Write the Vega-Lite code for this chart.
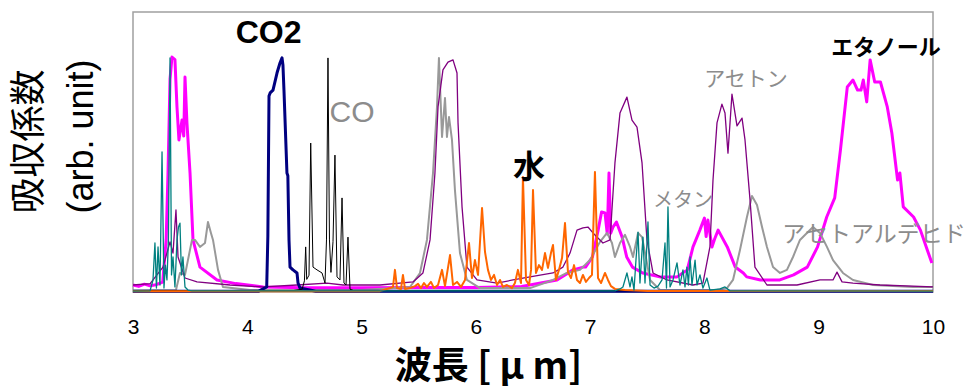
{
"$schema": "https://vega.github.io/schema/vega-lite/v6.json",
"width": 800, "height": 280,
"autosize": {"type": "none"},
"padding": {"left": 133, "top": 12, "right": 32, "bottom": 97},
"background": "white",
"config": {"view": {"stroke": "#a0a0a0", "strokeWidth": 1.5}},
"datasets": {
"spectra": [
{"s":"ethanol","x":3.0,"y":2.5},{"s":"ethanol","x":3.05,"y":2.0},{"s":"ethanol","x":3.1,"y":2.8},{"s":"ethanol","x":3.15,"y":2.2},{"s":"ethanol","x":3.2,"y":2.6},{"s":"ethanol","x":3.26,"y":3.5},{"s":"ethanol","x":3.29,"y":18.6},{"s":"ethanol","x":3.306,"y":42},{"s":"ethanol","x":3.324,"y":76},{"s":"ethanol","x":3.341,"y":83.9},{"s":"ethanol","x":3.367,"y":83.0},{"s":"ethanol","x":3.385,"y":66},{"s":"ethanol","x":3.402,"y":54.3},{"s":"ethanol","x":3.429,"y":61.4},{"s":"ethanol","x":3.444,"y":55.7},{"s":"ethanol","x":3.455,"y":76.8},{"s":"ethanol","x":3.472,"y":60.4},{"s":"ethanol","x":3.499,"y":42.5},{"s":"ethanol","x":3.525,"y":18.6},{"s":"ethanol","x":3.586,"y":8.9},{"s":"ethanol","x":3.735,"y":4.3},{"s":"ethanol","x":3.9,"y":3.0},{"s":"ethanol","x":4.14,"y":1.8},{"s":"ethanol","x":4.5,"y":1.5},{"s":"ethanol","x":5.0,"y":1.5},{"s":"ethanol","x":5.5,"y":1.6},{"s":"ethanol","x":6.0,"y":1.6},{"s":"ethanol","x":6.4,"y":2.0},{"s":"ethanol","x":6.71,"y":4.3},{"s":"ethanol","x":6.85,"y":7.9},{"s":"ethanol","x":6.94,"y":8.9},{"s":"ethanol","x":6.96,"y":8.9},{"s":"ethanol","x":7.02,"y":12.5},{"s":"ethanol","x":7.07,"y":22.1},{"s":"ethanol","x":7.10,"y":28.6},{"s":"ethanol","x":7.13,"y":28.2},{"s":"ethanol","x":7.15,"y":20.7},{"s":"ethanol","x":7.165,"y":42.5},{"s":"ethanol","x":7.18,"y":21},{"s":"ethanol","x":7.20,"y":23.2},{"s":"ethanol","x":7.23,"y":25.0},{"s":"ethanol","x":7.28,"y":19.6},{"s":"ethanol","x":7.32,"y":12.5},{"s":"ethanol","x":7.37,"y":8.9},{"s":"ethanol","x":7.46,"y":6.8},{"s":"ethanol","x":7.61,"y":5.4},{"s":"ethanol","x":7.76,"y":5.4},{"s":"ethanol","x":7.85,"y":7.9},{"s":"ethanol","x":7.90,"y":16.1},{"s":"ethanol","x":7.96,"y":22.1},{"s":"ethanol","x":8.00,"y":26.4},{"s":"ethanol","x":8.015,"y":19.8},{"s":"ethanol","x":8.03,"y":25.7},{"s":"ethanol","x":8.066,"y":16.1},{"s":"ethanol","x":8.09,"y":19},{"s":"ethanol","x":8.12,"y":22.1},{"s":"ethanol","x":8.20,"y":16.1},{"s":"ethanol","x":8.27,"y":8.9},{"s":"ethanol","x":8.34,"y":6.8},{"s":"ethanol","x":8.37,"y":5.4},{"s":"ethanol","x":8.49,"y":4.3},{"s":"ethanol","x":8.66,"y":4.3},{"s":"ethanol","x":8.78,"y":6.1},{"s":"ethanol","x":8.90,"y":8.9},{"s":"ethanol","x":8.99,"y":16.1},{"s":"ethanol","x":9.07,"y":26.8},{"s":"ethanol","x":9.14,"y":33.6},{"s":"ethanol","x":9.19,"y":50.7},{"s":"ethanol","x":9.25,"y":73.2},{"s":"ethanol","x":9.30,"y":75.7},{"s":"ethanol","x":9.34,"y":72.1},{"s":"ethanol","x":9.37,"y":72.1},{"s":"ethanol","x":9.39,"y":75.7},{"s":"ethanol","x":9.42,"y":67.9},{"s":"ethanol","x":9.45,"y":82.9},{"s":"ethanol","x":9.49,"y":75.0},{"s":"ethanol","x":9.54,"y":75.0},{"s":"ethanol","x":9.60,"y":66.1},{"s":"ethanol","x":9.64,"y":56.8},{"s":"ethanol","x":9.69,"y":40.0},{"s":"ethanol","x":9.71,"y":42.5},{"s":"ethanol","x":9.74,"y":30.4},{"s":"ethanol","x":9.83,"y":26.8},{"s":"ethanol","x":9.89,"y":22.1},{"s":"ethanol","x":9.95,"y":15.0},{"s":"ethanol","x":9.99,"y":10.4},
{"s":"acetaldehyde","x":3.0,"y":0.5},{"s":"acetaldehyde","x":3.376,"y":0.7},{"s":"acetaldehyde","x":3.411,"y":6.8},{"s":"acetaldehyde","x":3.455,"y":6.1},{"s":"acetaldehyde","x":3.516,"y":18.6},{"s":"acetaldehyde","x":3.542,"y":18.6},{"s":"acetaldehyde","x":3.586,"y":16.1},{"s":"acetaldehyde","x":3.63,"y":17.5},{"s":"acetaldehyde","x":3.656,"y":25.0},{"s":"acetaldehyde","x":3.682,"y":21.1},{"s":"acetaldehyde","x":3.70,"y":18.6},{"s":"acetaldehyde","x":3.744,"y":7.9},{"s":"acetaldehyde","x":3.787,"y":1.8},{"s":"acetaldehyde","x":4.024,"y":0.7},{"s":"acetaldehyde","x":5.0,"y":0.7},{"s":"acetaldehyde","x":5.424,"y":1.8},{"s":"acetaldehyde","x":5.511,"y":6.8},{"s":"acetaldehyde","x":5.572,"y":18.6},{"s":"acetaldehyde","x":5.625,"y":42.5},{"s":"acetaldehyde","x":5.66,"y":66.1},{"s":"acetaldehyde","x":5.677,"y":83.6},{"s":"acetaldehyde","x":5.704,"y":55.4},{"s":"acetaldehyde","x":5.73,"y":69.3},{"s":"acetaldehyde","x":5.747,"y":55.4},{"s":"acetaldehyde","x":5.765,"y":62.5},{"s":"acetaldehyde","x":5.791,"y":54.3},{"s":"acetaldehyde","x":5.817,"y":36.4},{"s":"acetaldehyde","x":5.861,"y":13.9},{"s":"acetaldehyde","x":5.922,"y":4.3},{"s":"acetaldehyde","x":6.036,"y":1.4},{"s":"acetaldehyde","x":6.474,"y":1.4},{"s":"acetaldehyde","x":6.675,"y":4.3},{"s":"acetaldehyde","x":6.797,"y":6.8},{"s":"acetaldehyde","x":6.911,"y":7.9},{"s":"acetaldehyde","x":6.999,"y":11.4},{"s":"acetaldehyde","x":7.086,"y":17.9},{"s":"acetaldehyde","x":7.148,"y":21.1},{"s":"acetaldehyde","x":7.191,"y":17.5},{"s":"acetaldehyde","x":7.217,"y":12.5},{"s":"acetaldehyde","x":7.261,"y":17.5},{"s":"acetaldehyde","x":7.305,"y":20.4},{"s":"acetaldehyde","x":7.349,"y":16.1},{"s":"acetaldehyde","x":7.375,"y":12.5},{"s":"acetaldehyde","x":7.419,"y":21.1},{"s":"acetaldehyde","x":7.454,"y":19.6},{"s":"acetaldehyde","x":7.497,"y":10.4},{"s":"acetaldehyde","x":7.524,"y":4.3},{"s":"acetaldehyde","x":7.611,"y":0.7},{"s":"acetaldehyde","x":8.11,"y":0.7},{"s":"acetaldehyde","x":8.197,"y":1.4},{"s":"acetaldehyde","x":8.25,"y":4.3},{"s":"acetaldehyde","x":8.311,"y":15.0},{"s":"acetaldehyde","x":8.372,"y":26.8},{"s":"acetaldehyde","x":8.416,"y":34.3},{"s":"acetaldehyde","x":8.46,"y":31.1},{"s":"acetaldehyde","x":8.504,"y":23.2},{"s":"acetaldehyde","x":8.547,"y":16.1},{"s":"acetaldehyde","x":8.60,"y":8.9},{"s":"acetaldehyde","x":8.661,"y":6.8},{"s":"acetaldehyde","x":8.722,"y":7.9},{"s":"acetaldehyde","x":8.775,"y":12.5},{"s":"acetaldehyde","x":8.836,"y":18.6},{"s":"acetaldehyde","x":8.897,"y":21.1},{"s":"acetaldehyde","x":8.95,"y":23.2},{"s":"acetaldehyde","x":9.011,"y":21.1},{"s":"acetaldehyde","x":9.072,"y":16.1},{"s":"acetaldehyde","x":9.125,"y":11.4},{"s":"acetaldehyde","x":9.212,"y":6.8},{"s":"acetaldehyde","x":9.30,"y":4.3},{"s":"acetaldehyde","x":9.475,"y":2.5},{"s":"acetaldehyde","x":9.825,"y":1.8},{"s":"acetaldehyde","x":10.0,"y":1.8},
{"s":"acetone","x":3.0,"y":2.5},{"s":"acetone","x":3.15,"y":3.0},{"s":"acetone","x":3.262,"y":8.9},{"s":"acetone","x":3.324,"y":17.9},{"s":"acetone","x":3.35,"y":13.9},{"s":"acetone","x":3.376,"y":29.3},{"s":"acetone","x":3.394,"y":12.5},{"s":"acetone","x":3.455,"y":5.0},{"s":"acetone","x":3.56,"y":3.6},{"s":"acetone","x":3.849,"y":2.5},{"s":"acetone","x":4.137,"y":1.8},{"s":"acetone","x":4.435,"y":2.5},{"s":"acetone","x":4.697,"y":3.2},{"s":"acetone","x":4.837,"y":2.5},{"s":"acetone","x":5.161,"y":2.5},{"s":"acetone","x":5.45,"y":3.6},{"s":"acetone","x":5.537,"y":6.8},{"s":"acetone","x":5.599,"y":18.6},{"s":"acetone","x":5.642,"y":42.5},{"s":"acetone","x":5.669,"y":66.1},{"s":"acetone","x":5.712,"y":79.3},{"s":"acetone","x":5.756,"y":82.1},{"s":"acetone","x":5.80,"y":82.9},{"s":"acetone","x":5.835,"y":78.2},{"s":"acetone","x":5.844,"y":60.4},{"s":"acetone","x":5.879,"y":30.4},{"s":"acetone","x":5.922,"y":8.9},{"s":"acetone","x":6.01,"y":4.3},{"s":"acetone","x":6.185,"y":3.2},{"s":"acetone","x":6.325,"y":4.3},{"s":"acetone","x":6.474,"y":5.4},{"s":"acetone","x":6.675,"y":6.8},{"s":"acetone","x":6.762,"y":8.9},{"s":"acetone","x":6.824,"y":13.9},{"s":"acetone","x":6.885,"y":22.1},{"s":"acetone","x":6.937,"y":22.9},{"s":"acetone","x":6.981,"y":23.2},{"s":"acetone","x":7.025,"y":21.1},{"s":"acetone","x":7.112,"y":17.5},{"s":"acetone","x":7.174,"y":18.6},{"s":"acetone","x":7.217,"y":46.1},{"s":"acetone","x":7.261,"y":63.9},{"s":"acetone","x":7.322,"y":69.6},{"s":"acetone","x":7.366,"y":61.4},{"s":"acetone","x":7.41,"y":58.9},{"s":"acetone","x":7.454,"y":46.1},{"s":"acetone","x":7.497,"y":18.6},{"s":"acetone","x":7.55,"y":6.8},{"s":"acetone","x":7.672,"y":4.3},{"s":"acetone","x":7.90,"y":2.5},{"s":"acetone","x":7.987,"y":3.2},{"s":"acetone","x":8.048,"y":16.1},{"s":"acetone","x":8.075,"y":40.0},{"s":"acetone","x":8.11,"y":60.4},{"s":"acetone","x":8.153,"y":67.1},{"s":"acetone","x":8.18,"y":63.9},{"s":"acetone","x":8.206,"y":49.6},{"s":"acetone","x":8.241,"y":70.7},{"s":"acetone","x":8.285,"y":59.3},{"s":"acetone","x":8.329,"y":62.1},{"s":"acetone","x":8.355,"y":54.3},{"s":"acetone","x":8.399,"y":32.9},{"s":"acetone","x":8.442,"y":8.9},{"s":"acetone","x":8.547,"y":2.5},{"s":"acetone","x":8.81,"y":2.5},{"s":"acetone","x":9.011,"y":4.3},{"s":"acetone","x":9.125,"y":4.3},{"s":"acetone","x":9.16,"y":7.1},{"s":"acetone","x":9.204,"y":3.6},{"s":"acetone","x":9.30,"y":3.2},{"s":"acetone","x":9.536,"y":2.5},{"s":"acetone","x":10.0,"y":1.8},
{"s":"co2","x":3.0,"y":0.3},{"s":"co2","x":4.10,"y":0.3},{"s":"co2","x":4.17,"y":1.8},{"s":"co2","x":4.18,"y":20},{"s":"co2","x":4.19,"y":70},{"s":"co2","x":4.20,"y":71.1},{"s":"co2","x":4.225,"y":72.1},{"s":"co2","x":4.26,"y":78.2},{"s":"co2","x":4.286,"y":81.8},{"s":"co2","x":4.304,"y":83.6},{"s":"co2","x":4.312,"y":81.1},{"s":"co2","x":4.321,"y":72.1},{"s":"co2","x":4.347,"y":42.5},{"s":"co2","x":4.355,"y":41.5},{"s":"co2","x":4.365,"y":18.6},{"s":"co2","x":4.374,"y":8.9},{"s":"co2","x":4.40,"y":7.9},{"s":"co2","x":4.435,"y":6.8},{"s":"co2","x":4.444,"y":3.2},{"s":"co2","x":4.461,"y":1.4},{"s":"co2","x":4.6,"y":0.3},{"s":"co2","x":10.0,"y":0.3},
{"s":"co","x":3.0,"y":0.5},{"s":"co","x":4.40,"y":0.5},{"s":"co","x":4.48,"y":1.0},{"s":"co","x":4.50,"y":4},{"s":"co","x":4.511,"y":16.1},{"s":"co","x":4.52,"y":4.5},{"s":"co","x":4.54,"y":6},{"s":"co","x":4.555,"y":53.2},{"s":"co","x":4.575,"y":8.9},{"s":"co","x":4.61,"y":7.9},{"s":"co","x":4.654,"y":6.8},{"s":"co","x":4.68,"y":3.2},{"s":"co","x":4.693,"y":18.6},{"s":"co","x":4.706,"y":83.6},{"s":"co","x":4.719,"y":18.6},{"s":"co","x":4.732,"y":7},{"s":"co","x":4.75,"y":18},{"s":"co","x":4.767,"y":48.9},{"s":"co","x":4.785,"y":5.4},{"s":"co","x":4.811,"y":4.3},{"s":"co","x":4.829,"y":33.6},{"s":"co","x":4.846,"y":3.2},{"s":"co","x":4.864,"y":2.5},{"s":"co","x":4.881,"y":19.6},{"s":"co","x":4.899,"y":1.0},{"s":"co","x":4.93,"y":0.5},{"s":"co","x":10.0,"y":0.5},
{"s":"water","x":3.0,"y":0.3},{"s":"water","x":5.16,"y":0.3},{"s":"water","x":5.249,"y":1.4},{"s":"water","x":5.275,"y":1.8},{"s":"water","x":5.292,"y":7.9},{"s":"water","x":5.31,"y":1.4},{"s":"water","x":5.345,"y":1.1},{"s":"water","x":5.362,"y":6.1},{"s":"water","x":5.38,"y":1.1},{"s":"water","x":5.424,"y":1.4},{"s":"water","x":5.467,"y":2.1},{"s":"water","x":5.494,"y":2.9},{"s":"water","x":5.52,"y":1.4},{"s":"water","x":5.546,"y":3.2},{"s":"water","x":5.572,"y":1.8},{"s":"water","x":5.607,"y":3.6},{"s":"water","x":5.634,"y":1.4},{"s":"water","x":5.669,"y":2.5},{"s":"water","x":5.704,"y":7.9},{"s":"water","x":5.73,"y":2.1},{"s":"water","x":5.774,"y":13.2},{"s":"water","x":5.8,"y":2.5},{"s":"water","x":5.835,"y":3.6},{"s":"water","x":5.87,"y":1.8},{"s":"water","x":5.905,"y":4.3},{"s":"water","x":5.94,"y":17.5},{"s":"water","x":5.966,"y":5.0},{"s":"water","x":5.992,"y":11.4},{"s":"water","x":6.019,"y":6.1},{"s":"water","x":6.054,"y":30.0},{"s":"water","x":6.08,"y":14.3},{"s":"water","x":6.106,"y":7.9},{"s":"water","x":6.132,"y":4.3},{"s":"water","x":6.159,"y":6.1},{"s":"water","x":6.185,"y":2.5},{"s":"water","x":6.211,"y":4.3},{"s":"water","x":6.237,"y":1.8},{"s":"water","x":6.272,"y":2.5},{"s":"water","x":6.316,"y":1.4},{"s":"water","x":6.342,"y":3.2},{"s":"water","x":6.368,"y":7.9},{"s":"water","x":6.395,"y":3.2},{"s":"water","x":6.412,"y":41.1},{"s":"water","x":6.439,"y":4.3},{"s":"water","x":6.465,"y":2.5},{"s":"water","x":6.483,"y":7.9},{"s":"water","x":6.5,"y":36.4},{"s":"water","x":6.526,"y":6.8},{"s":"water","x":6.552,"y":9.6},{"s":"water","x":6.579,"y":7.9},{"s":"water","x":6.605,"y":13.9},{"s":"water","x":6.631,"y":8.6},{"s":"water","x":6.657,"y":13.9},{"s":"water","x":6.675,"y":16.8},{"s":"water","x":6.701,"y":4.3},{"s":"water","x":6.727,"y":7.9},{"s":"water","x":6.754,"y":12.1},{"s":"water","x":6.78,"y":24.6},{"s":"water","x":6.806,"y":7.1},{"s":"water","x":6.832,"y":5.0},{"s":"water","x":6.859,"y":9.6},{"s":"water","x":6.885,"y":4.3},{"s":"water","x":6.911,"y":3.2},{"s":"water","x":6.937,"y":6.1},{"s":"water","x":6.963,"y":3.6},{"s":"water","x":6.99,"y":5.0},{"s":"water","x":7.016,"y":6.1},{"s":"water","x":7.042,"y":42.9},{"s":"water","x":7.069,"y":5.0},{"s":"water","x":7.095,"y":3.2},{"s":"water","x":7.13,"y":6.8},{"s":"water","x":7.156,"y":4.3},{"s":"water","x":7.182,"y":2.1},{"s":"water","x":7.217,"y":1.1},{"s":"water","x":7.305,"y":0.7},{"s":"water","x":7.5,"y":0.4},{"s":"water","x":10.0,"y":0.4},
{"s":"methane","x":3.0,"y":0.3},{"s":"methane","x":3.149,"y":0.4},{"s":"methane","x":3.175,"y":4.3},{"s":"methane","x":3.192,"y":17.5},{"s":"methane","x":3.205,"y":1.4},{"s":"methane","x":3.219,"y":16.1},{"s":"methane","x":3.236,"y":2.5},{"s":"methane","x":3.254,"y":50.0},{"s":"methane","x":3.271,"y":1.4},{"s":"methane","x":3.284,"y":9.6},{"s":"methane","x":3.297,"y":4.3},{"s":"methane","x":3.31,"y":18.6},{"s":"methane","x":3.324,"y":83.6},{"s":"methane","x":3.337,"y":6.1},{"s":"methane","x":3.35,"y":12.5},{"s":"methane","x":3.367,"y":1.8},{"s":"methane","x":3.385,"y":18.6},{"s":"methane","x":3.398,"y":23.2},{"s":"methane","x":3.411,"y":24.6},{"s":"methane","x":3.424,"y":6.1},{"s":"methane","x":3.437,"y":12.5},{"s":"methane","x":3.455,"y":1.8},{"s":"methane","x":3.481,"y":0.7},{"s":"methane","x":3.516,"y":0.4},{"s":"methane","x":7.217,"y":0.4},{"s":"methane","x":7.261,"y":1.1},{"s":"methane","x":7.287,"y":1.8},{"s":"methane","x":7.322,"y":6.8},{"s":"methane","x":7.349,"y":1.8},{"s":"methane","x":7.366,"y":5.4},{"s":"methane","x":7.384,"y":0.7},{"s":"methane","x":7.401,"y":11.4},{"s":"methane","x":7.419,"y":21.4},{"s":"methane","x":7.436,"y":3.2},{"s":"methane","x":7.462,"y":19.6},{"s":"methane","x":7.48,"y":3.2},{"s":"methane","x":7.506,"y":25.0},{"s":"methane","x":7.524,"y":2.5},{"s":"methane","x":7.559,"y":1.4},{"s":"methane","x":7.594,"y":2.1},{"s":"methane","x":7.629,"y":4.3},{"s":"methane","x":7.655,"y":17.5},{"s":"methane","x":7.668,"y":1.4},{"s":"methane","x":7.681,"y":30.4},{"s":"methane","x":7.699,"y":1.8},{"s":"methane","x":7.725,"y":4.3},{"s":"methane","x":7.76,"y":10.4},{"s":"methane","x":7.786,"y":2.5},{"s":"methane","x":7.812,"y":7.9},{"s":"methane","x":7.83,"y":1.8},{"s":"methane","x":7.847,"y":8.9},{"s":"methane","x":7.86,"y":2.5},{"s":"methane","x":7.874,"y":12.5},{"s":"methane","x":7.891,"y":2.5},{"s":"methane","x":7.918,"y":11.4},{"s":"methane","x":7.935,"y":2.5},{"s":"methane","x":7.961,"y":6.1},{"s":"methane","x":7.987,"y":1.4},{"s":"methane","x":8.022,"y":5.0},{"s":"methane","x":8.048,"y":0.7},{"s":"methane","x":8.136,"y":1.1},{"s":"methane","x":8.18,"y":1.8},{"s":"methane","x":8.224,"y":0.4},{"s":"methane","x":10.0,"y":0.3}
]
},
"data": {"name": "spectra"},
"encoding": {
"x": {"field": "x", "type": "quantitative",
"scale": {"domain": [3, 10], "nice": false, "zero": false},
"axis": {"values": [3,4,5,6,7,8,9,10], "grid": false, "domain": false, "ticks": false, "tickSize": 0, "labelFlush": false,
"labelFont": "Liberation Sans", "labelFontSize": 21, "labelColor": "black", "labelPadding": 35, "labelBaseline": "middle",
"title": "波長 [ μ m]", "titleFont": "Noto Sans CJK JP", "titleFontSize": 37, "titleFontWeight": "bold", "titleColor": "black",
"titleX": 355, "titleY": 75, "titleAlign": "center", "titleBaseline": "middle"}},
"y": {"field": "y", "type": "quantitative",
"scale": {"domain": [0, 100], "nice": false, "zero": false},
"axis": {"grid": false, "domain": false, "ticks": false, "labels": false,
"title": ["吸収係数", "(arb. unit)"], "titleFont": "Liberation Sans, Noto Sans CJK JP", "titleFontSize": 36, "titleFontWeight": "normal", "titleColor": "black",
"titleAngle": -90, "titleAlign": "left", "titleBaseline": "top", "titleX": -121, "titleY": 201, "titleLineHeight": 52}}
},
"layer": [
{"transform": [{"filter": "datum.s === 'ethanol'"}], "mark": {"type": "line", "color": "#FF00FF", "strokeWidth": 3, "strokeJoin": "round"}},
{"transform": [{"filter": "datum.s === 'acetaldehyde'"}], "mark": {"type": "line", "color": "#999999", "strokeWidth": 2, "strokeJoin": "round"}},
{"transform": [{"filter": "datum.s === 'acetone'"}], "mark": {"type": "line", "color": "#800080", "strokeWidth": 1.3, "strokeJoin": "round"}},
{"transform": [{"filter": "datum.s === 'co2'"}], "mark": {"type": "line", "color": "#000080", "strokeWidth": 3, "strokeJoin": "round"}},
{"transform": [{"filter": "datum.s === 'co'"}], "mark": {"type": "line", "color": "#000000", "strokeWidth": 1, "strokeJoin": "round"}},
{"transform": [{"filter": "datum.s === 'water'"}], "mark": {"type": "line", "color": "#FF6600", "strokeWidth": 2, "strokeJoin": "round"}},
{"transform": [{"filter": "datum.s === 'methane'"}], "mark": {"type": "line", "color": "#008080", "strokeWidth": 1.3, "strokeJoin": "round"}},
{"data": {"values": [{"x": 4.186, "y": 92.5, "label": "CO2"}]}, "mark": {"type": "text", "font": "Liberation Sans", "fontSize": 32, "fontWeight": "bold", "color": "black", "align": "center", "baseline": "middle"}, "encoding": {"text": {"field": "label"}}},
{"data": {"values": [{"x": 4.916, "y": 63.9, "label": "CO"}]}, "mark": {"type": "text", "font": "Liberation Sans", "fontSize": 30, "color": "#8c8c8c", "align": "center", "baseline": "middle"}, "encoding": {"text": {"field": "label"}}},
{"data": {"values": [{"x": 6.465, "y": 44.3, "label": "水"}]}, "mark": {"type": "text", "font": "Noto Sans CJK JP", "fontSize": 32, "fontWeight": "bold", "color": "black", "align": "center", "baseline": "middle"}, "encoding": {"text": {"field": "label"}}},
{"data": {"values": [{"x": 7.812, "y": 32.5, "label": "メタン"}]}, "mark": {"type": "text", "font": "Noto Sans CJK JP", "fontSize": 20, "color": "#8c8c8c", "align": "center", "baseline": "middle"}, "encoding": {"text": {"field": "label"}}},
{"data": {"values": [{"x": 8.364, "y": 75.7, "label": "アセトン"}]}, "mark": {"type": "text", "font": "Noto Sans CJK JP", "fontSize": 21, "color": "#8c8c8c", "align": "center", "baseline": "middle"}, "encoding": {"text": {"field": "label"}}},
{"data": {"values": [{"x": 9.589, "y": 87.1, "label": "エタノール"}]}, "mark": {"type": "text", "font": "Noto Sans CJK JP", "fontSize": 22, "fontWeight": "bold", "color": "black", "align": "center", "baseline": "middle"}, "encoding": {"text": {"field": "label"}}},
{"data": {"values": [{"x": 9.484, "y": 20.4, "label": "アセトアルデヒド"}]}, "mark": {"type": "text", "font": "Noto Sans CJK JP", "fontSize": 23, "color": "#8c8c8c", "align": "center", "baseline": "middle"}, "encoding": {"text": {"field": "label"}}}
]
}
